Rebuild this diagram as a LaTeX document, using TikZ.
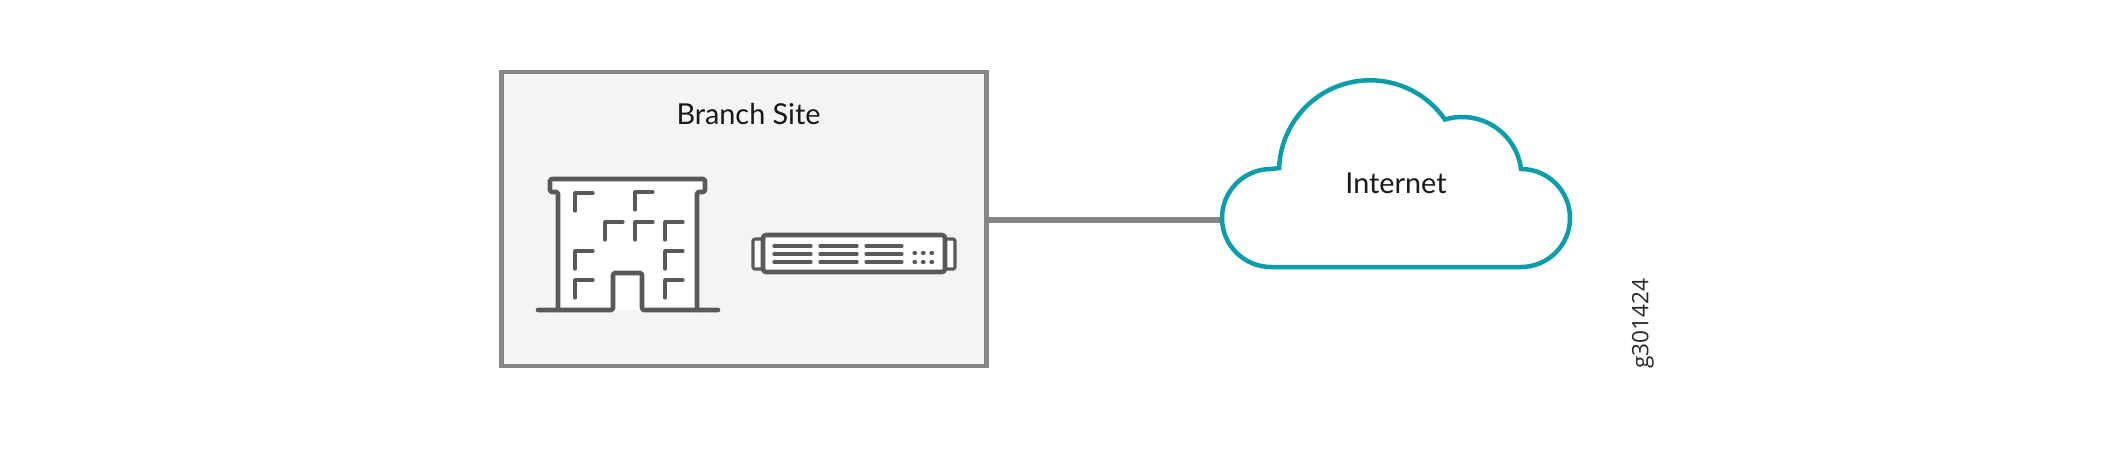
\documentclass[tikz,border=0pt]{standalone}
\usepackage{fontspec}
\setmainfont{Lato}
\newfontfamily\tagfont{Open Sans}
\definecolor{boxfill}{HTML}{F3F4F6}
\definecolor{boxline}{HTML}{858688}
\definecolor{icon}{HTML}{58595B}
\definecolor{teal}{HTML}{0C9DAA}
\tikzset{
  px/.style={x=0.5pt,y=-0.5pt},
  branchbox/.style={draw=boxline,line width=2.2pt,fill=boxfill,inner sep=0pt,minimum width=242.5pt,minimum height=147.2pt},
  iconline/.style={draw=icon,line width=2.3pt,line join=round,line cap=round},
  thinline/.style={draw=icon,line width=1.6pt,line cap=round,line join=round},
  link/.style={draw=boxline,line width=3pt},
  cloudline/.style={draw=teal,line width=2.25pt,line join=miter},
  label/.style={font=\fontsize{14.4}{16}\selectfont,text=black!90,inner sep=0pt}
}
\begin{document}
\begin{tikzpicture}[px]
\useasboundingbox (0,0) rectangle (2101,451);
% Branch box
\node[branchbox] (branch) at (744,219) {};
\node[label] (branchlabel) at (748.5,114) {Branch Site};
% Building
\fill[white] (558,192) -- (550,192) -- (550,179) -- (705,179) -- (705,192) -- (697,192) -- (697,310) -- (558,310) -- cycle;
\path[iconline,rounded corners=0.8pt] (558,310) -- (558,192) -- (550,192) -- (550,179) -- (705,179) -- (705,192) -- (697,192) -- (697,310);
\path[iconline,rounded corners=0.8pt] (538,310) -- (613,310) -- (613,273) -- (642,273) -- (642,310) -- (718,310);
\foreach \wx/\wy in {575/193,635/192,605/222,635/222,665/222,575/251,665/251,575/280,665/280}
  \path[thinline] (\wx,\wy+18) -- (\wx,\wy) -- (\wx+18,\wy);
% Device
\path[thinline,fill=white,rounded corners=1pt] (763,239) -- (753,239) -- (753,269) -- (763,269) -- cycle;
\path[thinline,fill=white,rounded corners=1pt] (945,239) -- (955,239) -- (955,269) -- (945,269) -- cycle;
\path[iconline,fill=white,rounded corners=1.5pt] (763,235) rectangle (945,272);
\foreach \ly in {246,254,262} {
  \path[thinline] (774,\ly) -- (811,\ly);
  \path[thinline] (820,\ly) -- (857,\ly);
  \path[thinline] (866,\ly) -- (902,\ly);
}
\foreach \dx in {914,922.5,931} \foreach \dy in {253,262}
  \path[thinline] (\dx,\dy) -- (\dx+1.5,\dy);
% Cloud
\coordinate (cloudwest) at (1222,220);
\path[link] (branch.east |- cloudwest) -- (cloudwest);
\path[cloudline,fill=white] (1271,169) arc[start angle=270,end angle=90,radius=49] -- (1521,267) arc[start angle=90,end angle=-90,radius=49]
  arc[start angle=-7.2,end angle=-106.7,radius=59.5]
  arc[start angle=-34.7,end angle=-178,radius=91] -- cycle;
\node[label] (internet) at (1396,183) {Internet};
\node[font=\tagfont\fontsize{11.3}{12}\selectfont,rotate=90,inner sep=0pt,text=black!85] (tag) at (1643,323.5) {g301424};
\end{tikzpicture}
\end{document}
